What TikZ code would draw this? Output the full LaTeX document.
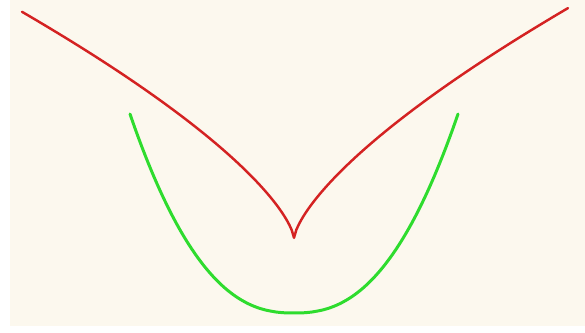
\documentclass[tikz,border=0pt]{standalone}
\usepackage{xcolor}
\definecolor{papercream}{HTML}{FCF8EE}
\definecolor{cuspred}{HTML}{D42222}
\definecolor{bowlgreen}{HTML}{2EDC2E}

\begin{document}
\begin{tikzpicture}[
  x=0.02cm,
  y=-0.02cm,
  redcurve/.style={cuspred, line width=1.4pt, line join=round, line cap=round},
  greencurve/.style={bowlgreen, line width=1.7pt, line cap=round},
  paper/.style={fill=papercream, draw=none}
]
  % ---- frame --------------------------------------------------------------
  \fill[white] (0,0) rectangle (585,333);
  \path[paper] (10,0) rectangle (585,326);
  \useasboundingbox (0,0) rectangle (585,333);

  % ---- red curve, cusp at (294,238) ---------------------------------------
  \draw[redcurve] plot[domain=272:0.01, samples=120] (294-\x,{238-4.47*\x^0.7})
    -- plot[domain=0.01:274, samples=120] (294+\x,{238-4.52*\x^0.7});

  % ---- green bowl, lowest point at (294,313) ------------------------------
  \draw[greencurve] plot[domain=-164:164, samples=150, smooth]
    (294+\x,{313-199*(abs(\x)/164)^2.4});
\end{tikzpicture}
\end{document}
